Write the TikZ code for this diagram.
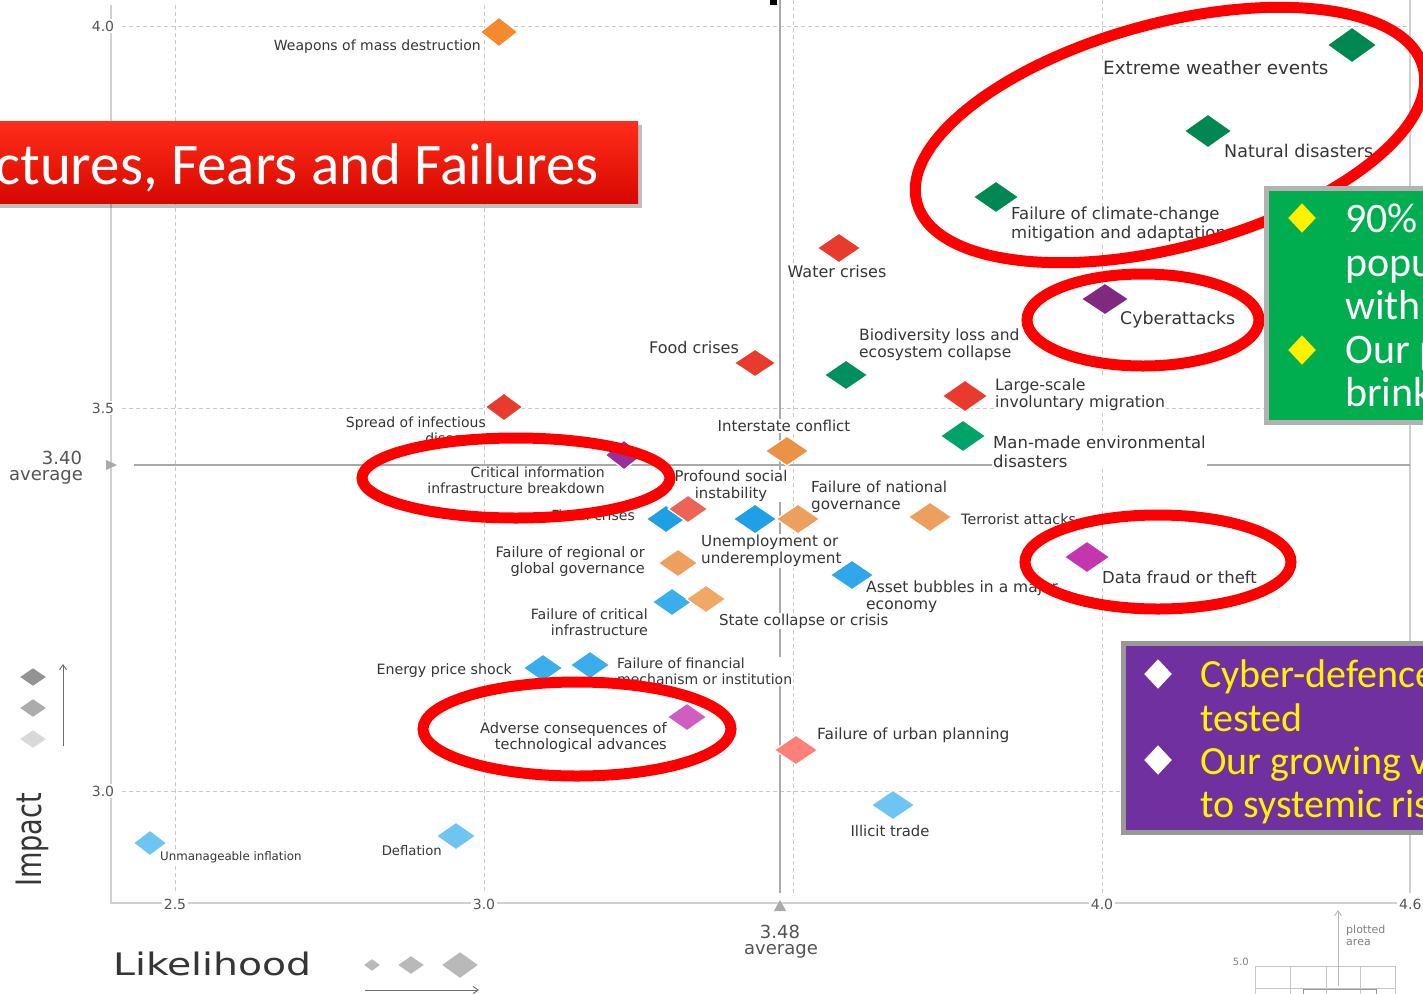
\documentclass[tikz,border=0pt]{standalone}
\usepackage{fontspec}
\setmainfont{DejaVu Sans}
\newfontfamily\calfont{Carlito}
\usetikzlibrary{shapes.geometric,arrows.meta}
\definecolor{labc}{HTML}{363636}
\definecolor{tickc}{HTML}{555555}
\definecolor{gridc}{HTML}{C9C9C9}
\definecolor{axisc}{HTML}{D0D0D0}
\definecolor{avgc}{HTML}{A9A9A9}
\definecolor{ringred}{HTML}{FF0000}
\definecolor{cOrA}{HTML}{F5892F}
\definecolor{cDkG}{HTML}{008752}
\definecolor{cRed}{HTML}{E83B2E}
\definecolor{cGrB}{HTML}{009060}
\definecolor{cGrC}{HTML}{00A468}
\definecolor{cPuA}{HTML}{7F2A7E}
\definecolor{cPuB}{HTML}{9C2E9C}
\definecolor{cOrB}{HTML}{EC9244}
\definecolor{cSaA}{HTML}{EE6358}
\definecolor{cBlA}{HTML}{1E9FE6}
\definecolor{cOrC}{HTML}{EDA05E}
\definecolor{cMag}{HTML}{C536AE}
\definecolor{cBlB}{HTML}{2FA7EA}
\definecolor{cBlC}{HTML}{3AAEEC}
\definecolor{cOrD}{HTML}{F0A865}
\definecolor{cPiP}{HTML}{D05DC0}
\definecolor{cSaB}{HTML}{FF8078}
\definecolor{cLBl}{HTML}{6EC5F4}
\definecolor{boxgreen}{HTML}{00AD4F}
\definecolor{boxpurple}{HTML}{7030A0}
\newcommand\fs[1]{\fontsize{#1}{\fpeval{1.12*#1}}\selectfont}
\newcommand\risk[6]{\node[dia, fill=#6, minimum width=#4pt, minimum height=#5pt] (#1) at (#2,#3) {};}
\tikzset{
  lab/.style={fill=white, inner sep=1pt, text=labc},
  tick/.style={fill=white, inner sep=2pt, text=tickc, font=\fs{14}},
  dia/.style={diamond, inner sep=0pt, draw=white, line width=1.2pt},
  gridline/.style={draw=gridc, dash pattern=on 4pt off 3pt, line width=0.9pt},
  axisline/.style={draw=axisc, line width=1.3pt},
  avgline/.style={draw=avgc, line width=1.4pt},
  ring/.style={draw=ringred, line width=11pt},
  legarrow/.style={draw=gray!85!black, line width=0.9pt, -{Straight Barb[length=5pt,width=7pt]}},
  bigbox/.style={line width=5pt},
  boxtext/.style={inner sep=0pt, align=left, anchor=north west},
}
\begin{document}
\begin{tikzpicture}[x=1pt,y=-1pt]
\useasboundingbox (0,0) rectangle (1423,993);
\fill[white] (0,0) rectangle (1423,993);

% grid and axes
\foreach \x in {175,484} \draw[gridline] (\x,5) -- (\x,893);
\foreach \x in {793,1102} \draw[gridline] (\x,0) -- (\x,893);
\foreach \y in {26,408,791} \draw[gridline] (122,\y) -- (1410,\y);
\draw[axisline] (111,5) -- (111,903) -- (1410,903);
\draw[axisline] (1410,0) -- (1410,893);
\draw[avgline] (134,465) -- (1410,465);
\draw[avgline] (780,0) -- (780,893);
\fill[avgc] (106,460) -- (117,465) -- (106,470) -- cycle;
\fill[avgc] (774,911) -- (780,900) -- (786,911) -- cycle;
\fill[black] (770,0) rectangle (777,5);

% tick labels
\node[tick] (ty4) at (103,26) {4.0};
\node[tick] (ty35) at (103,408) {3.5};
\node[tick] (ty3) at (103,791) {3.0};
\node[tick] (tx25) at (175,904) {2.5};
\node[tick] (tx3) at (484,904) {3.0};
\node[tick] (tx4) at (1102,904) {4.0};
\node[tick, anchor=west] (tx46) at (1397,904) {4.6};
\node[text=labc!85, font=\fs{18}, inner sep=0pt] (avy) at (62,458) {3.40};
\node[text=labc!85, font=\fs{18}, inner sep=0pt] (avyt) at (46,477) {average};
\node[text=labc!85, font=\fs{18}, inner sep=0pt] (avx) at (780,932) {3.48};
\node[text=labc!85, font=\fs{18}, inner sep=0pt] (avxt) at (781,951) {average};

% labels
\node[lab, font=\fs{14}, anchor=east] (lwmd) at (482,47) {Weapons of mass destruction};
\node[lab, font=\fs{18.3}, anchor=west] (lext) at (1102,68) {Extreme weather events};
\node[lab, font=\fs{17.5}, anchor=west] (lnat) at (1223,151) {Natural disasters};
\node[lab, font=\fs{16.5}, anchor=west, align=left] (lcli) at (1010,224.5) {Failure of climate-change\\mitigation and adaptation};
\node[lab, font=\fs{16}] (lwat) at (837,272) {Water crises};
\node[lab, font=\fs{17.4}, anchor=west] (lcyb) at (1119,320) {Cyberattacks};
\node[lab, font=\fs{15.5}, anchor=west, align=left] (lbio) at (858,345) {Biodiversity loss and\\ecosystem collapse};
\node[lab, font=\fs{16}] (lfood) at (694,348) {Food crises};
\node[lab, font=\fs{15.7}, anchor=west, align=left] (llsm) at (994,394.5) {Large-scale\\involuntary migration};
\node[lab, font=\fs{14}, anchor=east, align=right] (lspr) at (487,430.5) {Spread of infectious\\diseases};
\node[lab, font=\fs{15}] (lint) at (784,426) {Interstate conflict};
\node[lab, font=\fs{16.5}, anchor=west, align=left] (lman) at (992,452) {Man-made environmental\\disasters};
\node[lab, font=\fs{14}, anchor=east, align=right] (lcii) at (606,480) {Critical information\\infrastructure breakdown};
\node[lab, font=\fs{14.8}, align=center] (lpro) at (731,486) {Profound social\\instability};
\node[lab, font=\fs{14}, anchor=east] (lfis) at (636,515) {Fiscal crises};
\node[lab, font=\fs{15.2}, anchor=west, align=left] (lnag) at (810,496.5) {Failure of national\\governance};
\node[lab, font=\fs{15.2}, anchor=west, align=left] (lune) at (700,551) {Unemployment or\\underemployment};
\node[lab, font=\fs{14.3}, anchor=west] (lter) at (960,519) {Terrorist attacks};
\node[lab, font=\fs{16.5}, anchor=west] (ldat) at (1101,577) {Data fraud or theft};
\node[lab, font=\fs{14.5}, anchor=east, align=right] (lreg) at (646,561.5) {Failure of regional or\\global governance};
\node[lab, font=\fs{15.5}, anchor=west, align=left] (lass) at (865,596.5) {Asset bubbles in a major\\economy};
\node[lab, font=\fs{14.2}, anchor=east, align=right] (lcin) at (649,622) {Failure of critical\\infrastructure};
\node[lab, font=\fs{15}, anchor=west] (lsta) at (718,621) {State collapse or crisis};
\node[lab, font=\fs{14.2}, anchor=east] (lene) at (513,671) {Energy price shock};
\node[lab, font=\fs{14}, anchor=west, align=left] (lfin) at (616,671.5) {Failure of financial\\mechanism or institution};
\node[lab, font=\fs{14.6}, anchor=east, align=right] (ladv) at (668,737.5) {Adverse consequences of\\technological advances};
\node[lab, font=\fs{15.4}, anchor=west] (lurb) at (816,735) {Failure of urban planning};
\node[lab, font=\fs{14.8}] (lill) at (890,831) {Illicit trade};
\node[lab, font=\fs{11.8}, anchor=west] (lunm) at (159,857) {Unmanageable inflation};
\node[lab, font=\fs{13.2}, anchor=east] (ldef) at (443,851) {Deflation};

% diamonds
\risk{dwmd}{499}{32}{38}{30}{cOrA}
\risk{dext}{1352}{45}{50}{36}{cDkG}
\risk{dnat}{1208}{131}{48}{34}{cDkG}
\risk{dcli}{996}{197}{46}{32}{cDkG}
\risk{dwat}{839}{248}{44}{30}{cRed}
\risk{dcyb}{1105}{299}{48}{32}{cPuA}
\risk{dbio}{846}{375}{44}{30}{cGrB}
\risk{dfood}{755}{363}{42}{28}{cRed}
\risk{dlsm}{965}{396}{46}{32}{cRed}
\risk{dspr}{504}{407}{38}{28}{cRed}
\risk{dint}{787}{451}{44}{30}{cOrB}
\risk{dman}{963}{436}{46}{32}{cGrC}
\risk{dcii}{624}{455}{38}{30}{cPuB}
\risk{dfis}{666}{519}{40}{28}{cBlA}
\risk{dpro}{688}{509}{40}{28}{cSaA}
\risk{dune}{755}{519}{44}{30}{cBlA}
\risk{dnag}{798}{519}{44}{30}{cOrC}
\risk{dter}{930}{517}{44}{30}{cOrC}
\risk{ddat}{1087}{557}{46}{32}{cMag}
\risk{dreg}{678}{563}{40}{28}{cOrC}
\risk{dass}{852}{575}{44}{30}{cBlB}
\risk{dcin}{672}{602}{40}{28}{cBlC}
\risk{dsta}{706}{599}{40}{28}{cOrD}
\risk{dene}{543}{668}{40}{28}{cBlC}
\risk{dfin}{590}{665}{40}{28}{cBlC}
\risk{dadv}{687}{717}{40}{28}{cPiP}
\risk{durb}{796}{750}{44}{30}{cSaB}
\risk{dill}{893}{805}{44}{30}{cLBl}
\risk{dunm}{150}{843}{34}{26}{cLBl}
\risk{ddef}{456}{836}{40}{28}{cLBl}

% red rings
\draw[ring, rotate around={15:(1170,135)}] (1170,135) ellipse (262 and 112);
\draw[ring] (1143,320) ellipse (116 and 46);
\draw[ring] (516,478) ellipse (154 and 40);
\draw[ring] (1158,562) ellipse (133 and 47);
\draw[ring] (577,729) ellipse (154 and 47);

% green box
\draw[bigbox, draw=gray!60, fill=boxgreen] (1266,188) rectangle (1440,422);
\node[dia, draw=none, fill=yellow, minimum width=28pt, minimum height=30pt] (gb1) at (1302,218) {};
\node[dia, draw=none, fill=yellow, minimum width=28pt, minimum height=30pt] (gb2) at (1302,350) {};
\node[boxtext, text=white, font=\calfont\fontsize{42}{43.5}\selectfont] (gtxt) at (1345,204) {90\%\\popu\\with\\Our p\\brink};

% purple box
\draw[bigbox, draw=gray!80, fill=boxpurple] (1123,643) rectangle (1440,832);
\node[dia, draw=none, fill=white, minimum width=28pt, minimum height=30pt] (pb1) at (1158,674) {};
\node[dia, draw=none, fill=white, minimum width=28pt, minimum height=30pt] (pb2) at (1158,760) {};
\node[boxtext, text=yellow, font=\calfont\fontsize{40}{43.3}\selectfont] (ptxt) at (1200,660) {Cyber-defence\\tested\\Our growing v\\to systemic ris};

% title banner
\fill[black, opacity=0.25] (-10,125) rectangle (642,208);
\shade[top color={rgb,255:red,255;green,45;blue,25}, bottom color={rgb,255:red,215;green,8;blue,0}] (-10,121) rectangle (638,203);
\node[text=white, font=\calfont\fontsize{59}{61}\selectfont, anchor=base east, inner sep=0pt] (title) at (599,184) {ctures, Fears and Failures};

% legend: impact
\node[rotate=90, text=labc, font=\fs{28}, inner sep=0pt] (limp) at (32,840) {\scalebox{0.97}[1.25]{Impact}};
\node[dia, draw=none, fill=gray!85, minimum width=26pt, minimum height=18pt] (li1) at (33,677) {};
\node[dia, draw=none, fill=gray!65, minimum width=26pt, minimum height=18pt] (li2) at (33,708) {};
\node[dia, draw=none, fill=gray!30, minimum width=26pt, minimum height=18pt] (li3) at (33,739) {};
\coordinate (ia0) at (63,746);
\coordinate (ia1) at (63,664);
\draw[legarrow] (ia0) -- (ia1);

% legend: likelihood
\node[text=labc, font=\fs{31}, anchor=west, inner sep=0pt] (llik) at (113,964) {\scalebox{1.27}[1]{Likelihood}};
\node[dia, draw=none, fill=gray!55, minimum width=16pt, minimum height=12pt] (ll1) at (372,965) {};
\node[dia, draw=none, fill=gray!55, minimum width=26pt, minimum height=18pt] (ll2) at (411,965) {};
\node[dia, draw=none, fill=gray!55, minimum width=36pt, minimum height=26pt] (ll3) at (460,965) {};
\coordinate (la0) at (365,990);
\coordinate (la1) at (479,990);
\draw[legarrow] (la0) -- (la1);

% inset
\draw[draw=gray!45, line width=1pt] (1255,995) -- (1255,966) -- (1395,966) -- (1395,995);
\foreach \x in {1290,1326,1360} \draw[draw=gray!45, line width=1pt] (\x,966) -- (\x,995);
\draw[draw=gray!45, line width=1pt] (1255,988) -- (1395,988);
\draw[draw=gray!80, line width=1pt] (1303,995) -- (1303,989) -- (1376,989) -- (1376,995);
\node[text=gray, font=\fs{10}, anchor=east, inner sep=0pt] (i50) at (1249,962) {5.0};
\coordinate (pa0) at (1338,986);
\coordinate (pa1) at (1338,910);
\draw[legarrow, draw=gray!55] (pa0) -- (pa1);
\node[text=gray, font=\fs{11}, anchor=north west, align=left, inner sep=0pt] (iplot) at (1346,925) {plotted\\area};
\end{tikzpicture}
\end{document}
